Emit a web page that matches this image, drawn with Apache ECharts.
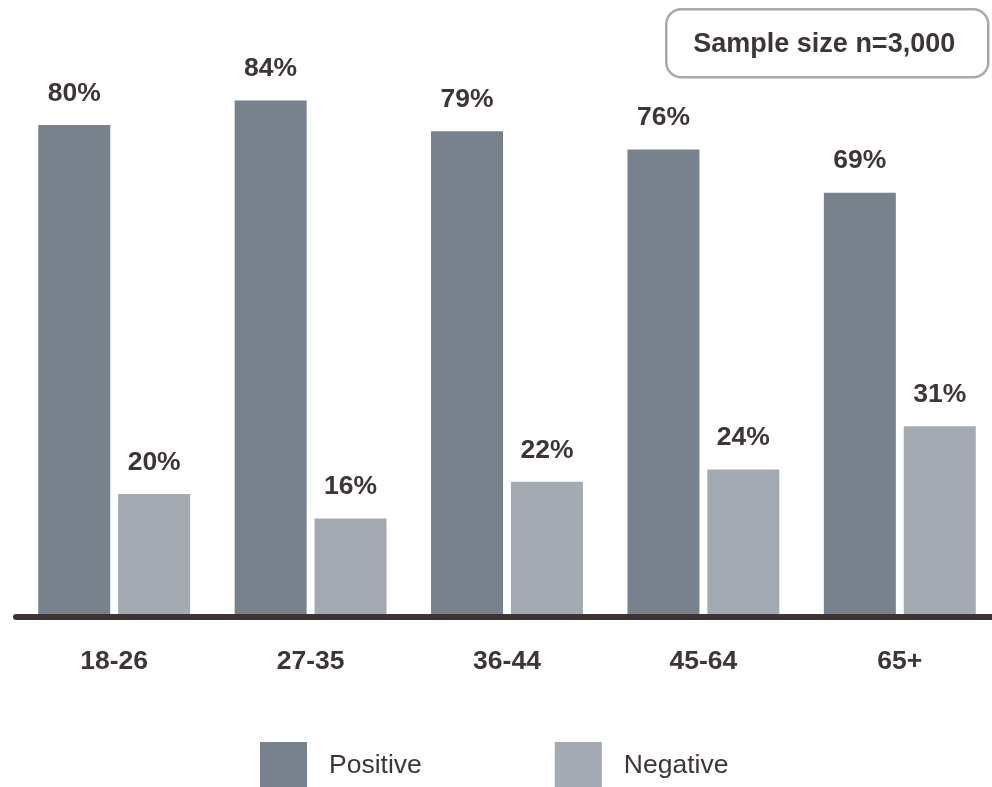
<!DOCTYPE html>
<html>
<head>
<meta charset="utf-8">
<style>
  html, body { margin: 0; padding: 0; background: #ffffff; overflow: hidden; }
  /* canvas is a few pixels wider than the window so the baseline runs off the right edge */
  #chart { width: 998px; height: 787px; }
</style>
<script src="https://cdn.jsdelivr.net/npm/echarts@6/dist/echarts.min.js"></script>
</head>
<body>
<div id="chart"></div>
<script>
// Age groups and share of positive / negative responses (%)
const categories = ['18-26', '27-35', '36-44', '45-64', '65+'];
const positive = [80, 84, 79, 76, 69];
const negative = [20, 16, 22, 24, 31];
const seriesNames = ['Positive', 'Negative'];
const sampleNote = 'Sample size n=3,000';

const FONT = "'Liberation Sans', Arial, Helvetica, sans-serif";
const TEXT = '#3e3636';
const COLORS = ['#78828d', '#a3aab1'];

const chart = echarts.init(document.getElementById('chart'), null, { renderer: 'canvas' });

const valueLabel = {
  show: true,
  position: 'top',
  distance: 18,
  formatter: '{c}%',
  color: TEXT,
  fontFamily: FONT,
  fontWeight: 'bold',
  fontSize: 26.5
};

chart.setOption({
  animation: false,
  backgroundColor: '#ffffff',
  grid: { left: 16, top: 2, bottom: 170, right: 0, containLabel: false },
  xAxis: {
    type: 'category',
    data: categories,
    z: 3,
    axisLine: { lineStyle: { color: '#3d3535', width: 6, cap: 'round' } },
    axisTick: { show: false },
    axisLabel: {
      margin: 31,
      color: TEXT,
      fontFamily: FONT,
      fontWeight: 'bold',
      fontSize: 26.5
    }
  },
  yAxis: {
    type: 'value',
    min: 0,
    max: 100,
    show: false,
    splitLine: { show: false }
  },
  legend: {
    left: 255,
    top: 737,
    itemWidth: 47,
    itemHeight: 47,
    itemGap: 133,
    icon: 'rect',
    data: seriesNames,
    textStyle: {
      color: TEXT,
      fontFamily: FONT,
      fontSize: 26.5,
      padding: [0, 0, 0, 17]
    }
  },
  series: [
    {
      name: seriesNames[0],
      type: 'bar',
      data: positive,
      barWidth: 72,
      barGap: '11%',
      itemStyle: { color: COLORS[0] },
      label: valueLabel
    },
    {
      name: seriesNames[1],
      type: 'bar',
      data: negative,
      barWidth: 72,
      barGap: '11%',
      itemStyle: { color: COLORS[1] },
      label: valueLabel
    }
  ],
  graphic: [
    {
      type: 'group',
      left: 665,
      top: 8,
      children: [
        {
          type: 'rect',
          shape: { x: 0, y: 0, width: 322, height: 68, r: 15 },
          style: { fill: '#ffffff', stroke: '#a5aab0', lineWidth: 2.5 }
        },
        {
          type: 'text',
          x: 158,
          y: 35,
          style: {
            text: sampleNote,
            fill: TEXT,
            font: 'bold 27px ' + FONT,
            textAlign: 'center',
            textVerticalAlign: 'middle'
          }
        }
      ]
    }
  ]
});
</script>
</body>
</html>
